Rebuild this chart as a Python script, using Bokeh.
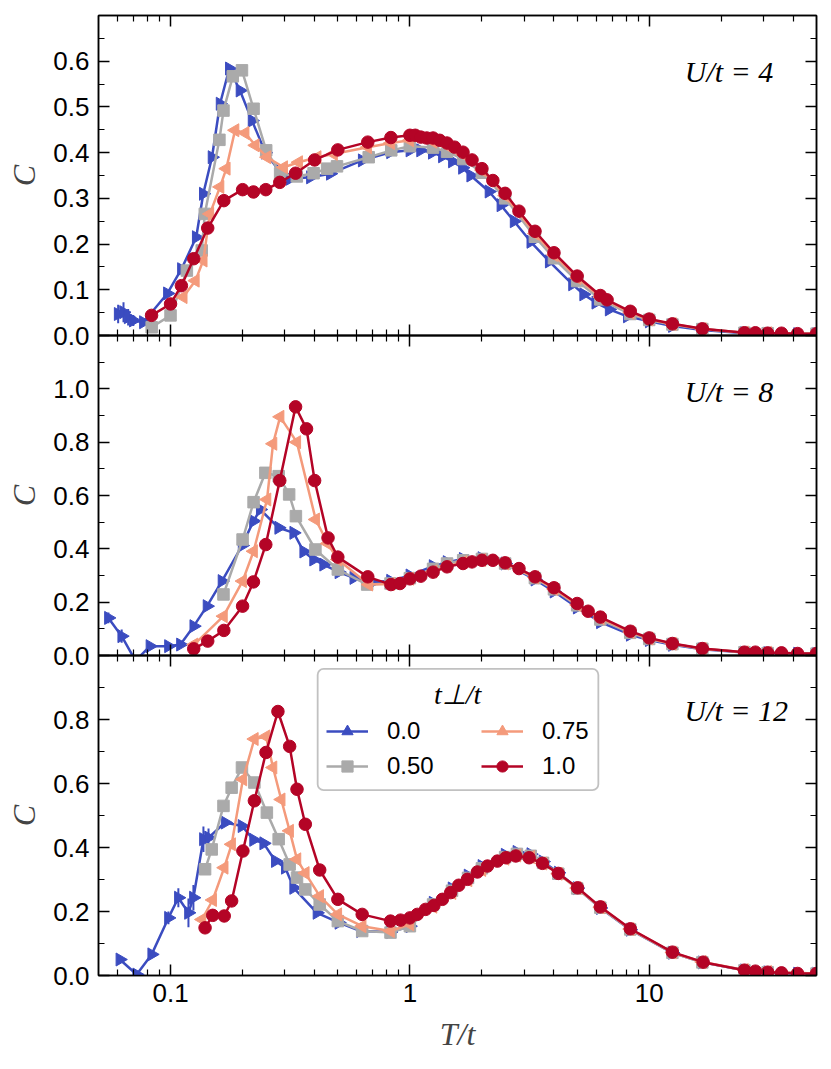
import math
from bokeh.plotting import figure
from bokeh.layouts import column
from bokeh.models import (Range1d, LinearAxis, LogAxis, FixedTicker, PrintfTickFormatter,
                          CustomJSTickFormatter, Legend, LegendItem, Label, BoxAnnotation)
from bokeh.embed import file_html
from bokeh.resources import INLINE

# ---------------- tick positions / labels ----------------
X_MAJOR = [0.1, 1, 10]
X_MINOR = [0.06, 0.07, 0.08, 0.09, 0.2, 0.3, 0.4, 0.5, 0.6, 0.7, 0.8, 0.9,
           2, 3, 4, 5, 6, 7, 8, 9, 20, 30, 40]
Y1_MAJOR = [0.0, 0.1, 0.2, 0.3, 0.4, 0.5, 0.6]
Y1_MINOR = [0.05, 0.15, 0.25, 0.35, 0.45, 0.55, 0.65]
Y2_MAJOR = [0.0, 0.2, 0.4, 0.6, 0.8, 1.0]
Y2_MINOR = [0.1, 0.3, 0.5, 0.7, 0.9, 1.1]
Y3_MAJOR = [0.0, 0.2, 0.4, 0.6, 0.8]
Y3_MINOR = [0.1, 0.3, 0.5, 0.7, 0.9]

SERIES_LABELS = ["0.0", "0.50", "0.75", "1.0"]
PANEL_LABELS = ["U/t = 4", "U/t = 8", "U/t = 12"]

# ---------------- U/t = 4 ----------------
B4_T = [0.0604, 0.0636, 0.0665, 0.0699, 0.077, 0.097, 0.111, 0.128, 0.137, 0.149,
        0.161, 0.176, 0.195, 0.219, 0.249, 0.285, 0.316, 0.384, 0.465, 0.632,
        0.83, 1.0, 1.108, 1.24, 1.367, 1.505, 1.658, 1.795, 2.14, 2.40,
        2.725, 3.2, 3.82, 4.78, 5.32, 5.98, 6.8, 8.1, 10.0, 12.5,
        16.67, 25.0, 31.25, 41.67, 50.0]
B4_C = [0.047, 0.051, 0.040, 0.033, 0.029, 0.092, 0.145, 0.215, 0.31, 0.39,
        0.507, 0.584, 0.536, 0.47, 0.40, 0.36, 0.343, 0.346, 0.354, 0.383,
        0.401, 0.405, 0.405, 0.400, 0.392, 0.381, 0.367, 0.350, 0.315, 0.285,
        0.25, 0.205, 0.162, 0.112, 0.09, 0.072, 0.057, 0.042, 0.031, 0.021,
        0.012, 0.005, 0.004, 0.003, 0.003]
B4_ERR_T = [0.0604, 0.0636, 0.0665, 0.0699]
B4_ERR_C = [0.047, 0.051, 0.040, 0.033]
B4_ERR_E = [0.02, 0.022, 0.018, 0.012]

G4_T = [0.0834, 0.1, 0.117, 0.135, 0.139, 0.160, 0.1664, 0.182, 0.1988, 0.2223,
        0.251, 0.287, 0.337, 0.396, 0.451, 0.496, 0.673, 0.836, 1.0, 1.25,
        1.43, 1.67, 2.0, 2.5, 3.33, 4.0, 5.0, 6.25, 8.33, 10.0,
        12.5, 16.67, 25.0, 31.25, 50.0]
G4_C = [0.018, 0.044, 0.142, 0.186, 0.266, 0.428, 0.492, 0.567, 0.580, 0.496,
        0.405, 0.355, 0.348, 0.355, 0.365, 0.370, 0.390, 0.405, 0.414, 0.411,
        0.402, 0.386, 0.356, 0.300, 0.216, 0.169, 0.119, 0.079, 0.047, 0.034,
        0.024, 0.014, 0.006, 0.005, 0.004]

S4_T = [0.113, 0.127, 0.137, 0.146, 0.161, 0.171, 0.186, 0.205, 0.226, 0.253,
        0.297, 0.343, 0.41, 0.48, 0.667, 0.833, 1.0, 1.25, 1.43, 1.67,
        2.0, 2.5, 3.33, 4.0, 5.0, 6.25, 8.33, 10.0, 12.5, 16.67,
        25.0, 31.25, 50.0]
S4_C = [0.084, 0.12, 0.164, 0.266, 0.325, 0.365, 0.449, 0.443, 0.416, 0.39,
        0.368, 0.379, 0.39, 0.397, 0.412, 0.421, 0.427, 0.424, 0.415, 0.396,
        0.362, 0.306, 0.223, 0.176, 0.126, 0.084, 0.05, 0.035, 0.025, 0.014,
        0.006, 0.005, 0.004]

R4_T = [0.0833, 0.1, 0.111, 0.125, 0.143, 0.167, 0.2, 0.222, 0.25, 0.286,
        0.333, 0.4, 0.5, 0.667, 0.833, 1.0, 1.053, 1.111, 1.176, 1.25,
        1.333, 1.429, 1.538, 1.667, 1.818, 2.0, 2.222, 2.5, 2.857, 3.333,
        4.0, 5.0, 6.25, 6.667, 8.333, 10.0, 12.5, 16.67, 25.0, 27.78,
        31.25, 35.71, 41.67, 50.0]
R4_C = [0.044, 0.069, 0.109, 0.168, 0.235, 0.295, 0.319, 0.314, 0.319, 0.335,
        0.355, 0.384, 0.406, 0.423, 0.433, 0.438, 0.438, 0.434, 0.432, 0.432,
        0.427, 0.421, 0.412, 0.401, 0.384, 0.365, 0.339, 0.311, 0.272, 0.228,
        0.181, 0.130, 0.0875, 0.078, 0.053, 0.036, 0.0255, 0.0146, 0.006, 0.006,
        0.005, 0.005, 0.004, 0.004]

# ---------------- U/t = 8 ----------------
B8_T = [0.055, 0.0625, 0.0714, 0.082, 0.098, 0.11, 0.125, 0.142, 0.164, 0.199,
        0.222, 0.237, 0.283, 0.327, 0.36, 0.396, 0.436, 0.505, 0.583, 0.7,
        0.83, 1.0, 1.25, 1.43, 1.67, 2.0, 2.5, 3.33, 4.0, 5.0,
        6.25, 8.33, 10.0, 12.5, 16.67, 25.0, 31.25, 41.67, 50.0]
B8_C = [0.141, 0.0725, -0.02, 0.035, 0.035, 0.041, 0.11, 0.185, 0.279, 0.4125,
        0.504, 0.5475, 0.479, 0.46, 0.39, 0.36, 0.341, 0.3125, 0.291, 0.275,
        0.28, 0.30, 0.335, 0.35, 0.362, 0.365, 0.345, 0.285, 0.24, 0.18,
        0.125, 0.078, 0.058, 0.04, 0.023, 0.011, 0.009, 0.007, 0.006]
B8_ERR_T = [0.055, 0.0625, 0.082, 0.098, 0.11]
B8_ERR_C = [0.141, 0.0725, 0.035, 0.035, 0.041]
B8_ERR_E = [0.02, 0.025, 0.012, 0.01, 0.008]

G8_T = [0.1664, 0.2, 0.2223, 0.249, 0.283, 0.313, 0.334, 0.403, 0.5, 0.663,
        0.83, 1.0, 1.25, 1.43, 1.67, 2.0, 2.5, 3.33, 4.0, 5.0,
        6.25, 8.33, 10.0, 12.5, 16.67, 25.0, 31.25, 50.0]
G8_C = [0.229, 0.435, 0.575, 0.685, 0.6725, 0.604, 0.5225, 0.3975, 0.3225, 0.266,
        0.27, 0.29, 0.325, 0.345, 0.357, 0.362, 0.345, 0.29, 0.248, 0.188,
        0.135, 0.085, 0.062, 0.043, 0.025, 0.012, 0.009, 0.007]

S8_T = [0.1254, 0.1664, 0.2, 0.2223, 0.253, 0.268, 0.287, 0.337, 0.404, 0.4537,
        0.5, 0.673, 0.83, 1.0, 1.25, 1.43, 1.67, 2.0, 2.5, 3.33,
        4.0, 5.0, 6.25, 8.33, 10.0, 12.5, 16.67, 25.0, 31.25, 50.0]
S8_C = [0.041, 0.1475, 0.279, 0.391, 0.585, 0.794, 0.895, 0.80, 0.51, 0.42,
        0.36, 0.266, 0.268, 0.288, 0.315, 0.335, 0.35, 0.358, 0.345, 0.293,
        0.25, 0.19, 0.14, 0.088, 0.064, 0.044, 0.025, 0.012, 0.01, 0.007]

R8_T = [0.125, 0.143, 0.167, 0.2, 0.222, 0.25, 0.286, 0.333, 0.370, 0.4,
        0.455, 0.5, 0.667, 0.833, 0.909, 1.0, 1.111, 1.25, 1.429, 1.667,
        1.818, 2.0, 2.222, 2.5, 2.857, 3.333, 4.0, 5.0, 5.556, 6.25,
        8.333, 10.0, 12.5, 16.67, 25.0, 27.78, 31.25, 35.71, 41.67, 50.0]
R8_C = [0.025, 0.054, 0.094, 0.185, 0.276, 0.416, 0.656, 0.9325, 0.85, 0.656,
        0.441, 0.369, 0.295, 0.266, 0.27, 0.2875, 0.2975, 0.3125, 0.3325, 0.345,
        0.351, 0.357, 0.357, 0.3475, 0.326, 0.295, 0.254, 0.195, 0.166, 0.144,
        0.091, 0.066, 0.045, 0.026, 0.0125, 0.0125, 0.01, 0.01, 0.0075, 0.0075]

# ---------------- U/t = 12 ----------------
B12_T = [0.0614, 0.0722, 0.0834, 0.098, 0.1078, 0.1188, 0.1246, 0.1372, 0.1441, 0.169,
         0.1988, 0.2223, 0.245, 0.274, 0.3016, 0.3268, 0.409, 0.505, 0.622, 0.83,
         1.0, 1.25, 1.5, 1.75, 2.0, 2.5, 2.8, 3.2, 3.6, 4.17,
         5.0, 6.25, 8.33, 12.5, 16.67, 25.0, 31.25, 41.67, 50.0]
B12_C = [0.050, 0.003, 0.066, 0.18, 0.243, 0.196, 0.243, 0.426, 0.431, 0.478,
         0.467, 0.424, 0.413, 0.358, 0.337, 0.274, 0.196, 0.165, 0.139, 0.136,
         0.154, 0.227, 0.272, 0.312, 0.342, 0.377, 0.386, 0.379, 0.356, 0.321,
         0.273, 0.211, 0.143, 0.071, 0.041, 0.016, 0.01, 0.006, 0.006]
B12_ERR_T = [0.0614, 0.098, 0.1078, 0.1188, 0.1246, 0.1372, 0.1441]
B12_ERR_C = [0.050, 0.18, 0.243, 0.196, 0.243, 0.426, 0.431]
B12_ERR_E = [0.012, 0.02, 0.03, 0.045, 0.04, 0.04, 0.028]

G12_T = [0.1394, 0.1486, 0.1664, 0.180, 0.1988, 0.224, 0.2526, 0.283, 0.3145, 0.3376,
         0.3657, 0.42, 0.5, 0.632, 0.83, 1.0, 1.25, 1.5, 1.75, 2.0,
         2.5, 2.8, 3.2, 3.6, 4.17, 5.0, 6.25, 8.33, 12.5, 16.67,
         25.0, 31.25, 50.0]
G12_C = [0.332, 0.394, 0.530, 0.587, 0.65, 0.603, 0.509, 0.426, 0.347, 0.306,
         0.269, 0.222, 0.170, 0.139, 0.134, 0.154, 0.222, 0.265, 0.305, 0.335,
         0.37, 0.38, 0.374, 0.352, 0.318, 0.272, 0.212, 0.144, 0.071, 0.041,
         0.016, 0.01, 0.006]

S12_T = [0.1353, 0.150, 0.1676, 0.180, 0.2006, 0.224, 0.2505, 0.268, 0.29, 0.3145,
         0.3376, 0.3657, 0.42, 0.5, 0.632, 0.83, 1.0, 1.25, 1.5, 1.75,
         2.0, 2.5, 2.8, 3.2, 3.6, 4.17, 5.0, 6.25, 8.33, 12.5,
         16.67, 25.0, 31.25, 50.0]
S12_C = [0.175, 0.236, 0.337, 0.41, 0.613, 0.739, 0.747, 0.65, 0.55, 0.452,
         0.363, 0.32, 0.248, 0.191, 0.154, 0.139, 0.16, 0.215, 0.258, 0.298,
         0.33, 0.365, 0.375, 0.37, 0.35, 0.318, 0.273, 0.213, 0.145, 0.072,
         0.042, 0.017, 0.011, 0.006]

R12_T = [0.1394, 0.150, 0.1676, 0.180, 0.2006, 0.224, 0.2505, 0.281, 0.3145, 0.3376,
         0.3657, 0.42, 0.5, 0.632, 0.83, 0.914, 1.0, 1.074, 1.163, 1.26,
         1.367, 1.48, 1.60, 1.74, 1.915, 2.11, 2.32, 2.52, 2.77, 3.15,
         3.58, 4.17, 5.02, 6.25, 8.34, 12.5, 16.8, 25.0, 27.78, 31.25,
         35.71, 41.67, 50.0]
R12_C = [0.149, 0.188, 0.186, 0.233, 0.389, 0.546, 0.697, 0.825, 0.716, 0.582,
         0.4726, 0.3297, 0.238, 0.191, 0.170, 0.173, 0.180, 0.191, 0.2066, 0.219,
         0.238, 0.259, 0.282, 0.3005, 0.3235, 0.342, 0.3575, 0.368, 0.3735, 0.368,
         0.3505, 0.319, 0.274, 0.2145, 0.146, 0.073, 0.0417, 0.0167, 0.0136, 0.0104,
         0.0083, 0.0063, 0.0063]

# ---------------- styling ----------------
BLUE, GREY, SALMON, RED = "#3b4cc0", "#aaaaaa", "#f49a7b", "#b40426"
TICK_FONT = "Liberation Sans"
MATH_FONT = "Liberation Serif"
BLANK = CustomJSTickFormatter(code="return ''")


def style_axis(ax):
    ax.axis_line_width = 1.5
    ax.axis_line_color = "black"
    ax.major_tick_in = 11
    ax.major_tick_out = 0
    ax.minor_tick_in = 6
    ax.minor_tick_out = 0
    ax.major_tick_line_width = 1.5
    ax.minor_tick_line_width = 1.2
    ax.major_tick_line_color = "black"
    ax.minor_tick_line_color = "black"
    ax.major_label_text_font = TICK_FONT
    ax.major_label_text_font_size = "26px"
    ax.major_label_text_color = "black"


def make_panel(ymax, ymaj, ymin, height, btop, bbot, show_x):
    p = figure(width=824, height=height, x_axis_type="log",
               x_range=Range1d(0.05, 50), y_range=Range1d(0, ymax),
               output_backend="svg", toolbar_location=None,
               min_border_left=98, min_border_right=8,
               min_border_top=btop, min_border_bottom=bbot,
               background_fill_color=None, border_fill_color=None,
               outline_line_color="black", outline_line_width=1.5)
    p.xgrid.visible = False
    p.ygrid.visible = False

    xa = p.xaxis[0]
    xa.ticker = FixedTicker(ticks=X_MAJOR, minor_ticks=X_MINOR)
    style_axis(xa)
    if show_x:
        xa.formatter = CustomJSTickFormatter(code="return tick.toString()")
        xa.major_label_standoff = 8
        xa.axis_label = "T/t"
        xa.axis_label_text_font = MATH_FONT
        xa.axis_label_text_font_style = "italic"
        xa.axis_label_text_font_size = "32px"
        xa.axis_label_standoff = 11
    else:
        xa.formatter = BLANK
        xa.major_label_standoff = 0

    ya = p.yaxis[0]
    ya.ticker = FixedTicker(ticks=ymaj, minor_ticks=ymin)
    ya.formatter = PrintfTickFormatter(format="%.1f")
    style_axis(ya)
    ya.major_label_standoff = 9
    ya.axis_label = "C"
    ya.axis_label_text_font = MATH_FONT
    ya.axis_label_text_font_style = "italic"
    ya.axis_label_text_font_size = "32px"
    ya.axis_label_standoff = 8

    top = LogAxis(ticker=FixedTicker(ticks=X_MAJOR, minor_ticks=X_MINOR), formatter=BLANK)
    style_axis(top)
    top.major_label_standoff = 0
    p.add_layout(top, "above")
    right = LinearAxis(ticker=FixedTicker(ticks=ymaj, minor_ticks=ymin), formatter=BLANK)
    style_axis(right)
    right.major_label_standoff = 0
    p.add_layout(right, "right")
    return p


def draw(p, T, C, color, marker, angle, size):
    ln = p.line(T, C, line_color=color, line_width=2.5)
    sc = p.scatter(T, C, marker=marker, angle=angle, size=size,
                   fill_color=color, line_color=color)
    return ln, sc


def errbars(p, T, C, E, color):
    lo = [c - e for c, e in zip(C, E)]
    hi = [c + e for c, e in zip(C, E)]
    p.segment(x0=T, y0=lo, x1=T, y1=hi, line_color=color, line_width=2)


def add_panel_label(p, text, x, y):
    p.add_layout(Label(x=x, y=y, text=text, text_align="right", text_baseline="middle",
                       text_font=MATH_FONT, text_font_style="italic",
                       text_font_size="30px", text_color="black"))


p1 = make_panel(0.7, Y1_MAJOR, Y1_MINOR, 349, 15, 14, False)
p2 = make_panel(1.2, Y2_MAJOR, Y2_MINOR, 348, 14, 14, False)
p3 = make_panel(1.0, Y3_MAJOR, Y3_MINOR, 420, 14, 86, True)
p2.margin = (-28, 0, 0, 0)
p3.margin = (-28, 0, 0, 0)

SETS = [
    (p1, (B4_T, B4_C), (G4_T, G4_C), (S4_T, S4_C), (R4_T, R4_C), (B4_ERR_T, B4_ERR_C, B4_ERR_E)),
    (p2, (B8_T, B8_C), (G8_T, G8_C), (S8_T, S8_C), (R8_T, R8_C), (B8_ERR_T, B8_ERR_C, B8_ERR_E)),
    (p3, (B12_T, B12_C), (G12_T, G12_C), (S12_T, S12_C), (R12_T, R12_C), (B12_ERR_T, B12_ERR_C, B12_ERR_E)),
]

handles = None
for p, b, g, s, r, e in SETS:
    errbars(p, e[0], e[1], e[2], BLUE)
    hb = draw(p, b[0], b[1], BLUE, "triangle", -math.pi / 2, 13)
    hg = draw(p, g[0], g[1], GREY, "square", 0, 11.5)
    hs = draw(p, s[0], s[1], SALMON, "triangle", math.pi / 2, 13)
    hr = draw(p, r[0], r[1], RED, "circle", 0, 12.5)
    handles = (hb, hg, hs, hr)

add_panel_label(p1, PANEL_LABELS[0], 33.0, 0.578)
add_panel_label(p2, PANEL_LABELS[1], 33.0, 0.991)
add_panel_label(p3, PANEL_LABELS[2], 38.0, 0.827)

# legend frame
p3.add_layout(BoxAnnotation(left=0.4118, right=6.13, bottom=0.579, top=0.958,
                            fill_color="white", fill_alpha=0.85,
                            line_color="#333333", line_width=1.8, border_radius=6))


def make_legend(items, loc):
    lg = Legend(items=items, location=loc, orientation="vertical",
                background_fill_alpha=0, border_line_color=None,
                padding=0, margin=0, spacing=7,
                glyph_width=42, glyph_height=28, label_height=28,
                label_standoff=19, label_text_font=TICK_FONT,
                label_text_font_size="24px", label_text_color="black")
    return lg


hb, hg, hs, hr = handles
leg1 = make_legend([LegendItem(label=SERIES_LABELS[0], renderers=list(hb)),
                    LegendItem(label=SERIES_LABELS[1], renderers=list(hg))], (228, 195))
leg2 = make_legend([LegendItem(label=SERIES_LABELS[2], renderers=list(hs)),
                    LegendItem(label=SERIES_LABELS[3], renderers=list(hr))], (383, 195))
p3.add_layout(leg1)
p3.add_layout(leg2)
p3.add_layout(Label(x=1.584, y=0.8795, text="t⊥/t", text_align="center", text_baseline="middle",
                    text_font=MATH_FONT, text_font_style="italic", text_font_size="28px",
                    text_color="black"))

layout = column(p1, p2, p3, spacing=0)
open("out.html", "w").write(file_html(layout, INLINE))
